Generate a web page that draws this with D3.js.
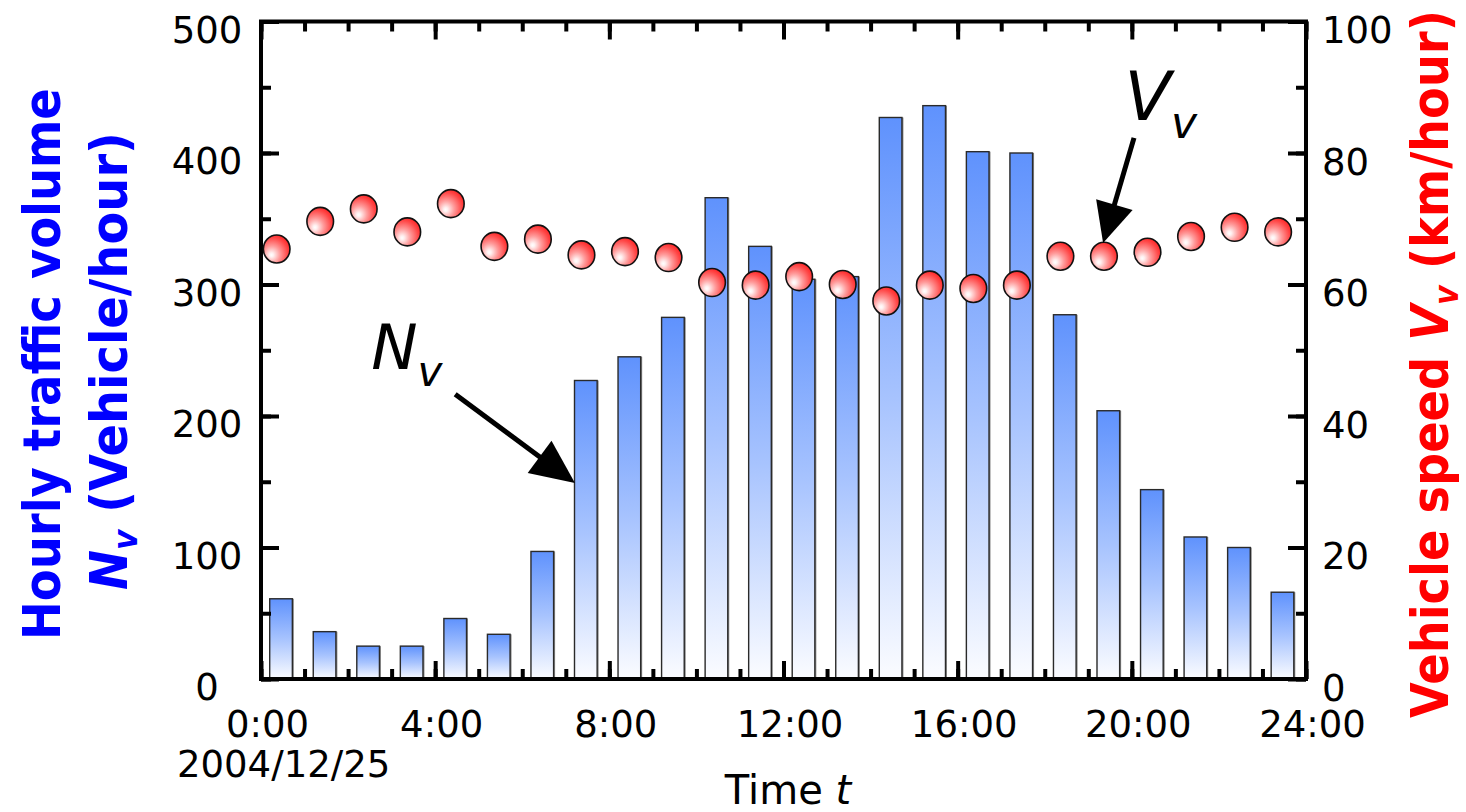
<!DOCTYPE html>
<html><head><meta charset="utf-8">
<script src="https://cdn.jsdelivr.net/npm/d3@7"></script>
<style>
html,body{margin:0;padding:0;background:#fff;}
svg{display:block;}
text{font-family:"DejaVu Sans",Verdana,sans-serif;}
</style></head>
<body>
<svg id="chart" width="1466" height="812"></svg>
<script>
// ---- data ----
const hours = [0,1,2,3,4,5,6,7,8,9,10,11,12,13,14,15,16,17,18,19,20,21,22,23];
const volume = [61,36,25,25,46,34,97,227,245,275,366,329,304,306,427,436,401,400,277,204,144,108,100,66];
const speed = [65.4,69.6,71.5,68.0,72.3,65.8,66.9,64.5,65.0,64.1,60.3,59.9,61.2,60.0,57.5,59.9,59.4,59.9,64.3,64.3,64.9,67.3,68.7,68.0];
const xTicks = [0,4,8,12,16,20,24];
const xTickLabels = ["0:00","4:00","8:00","12:00","16:00","20:00","24:00"];
const yLeftTicks = [0,100,200,300,400,500];
const yRightTicks = [0,20,40,60,80,100];
const dateLabel = "2004/12/25";

const svg = d3.select("#chart");
const L = 261, R = 1306, T = 21.5, B = 679;
const x = d3.scaleLinear().domain([0,24]).range([L,R]);
const yL = d3.scaleLinear().domain([0,500]).range([B,T]);
const yR = d3.scaleLinear().domain([0,100]).range([B,T]);

const defs = svg.append("defs");
const bg = defs.append("linearGradient").attr("id","barGrad").attr("x1",0).attr("y1",0).attr("x2",0).attr("y2",1);
bg.append("stop").attr("offset","0").attr("stop-color","#5f92fd");
bg.append("stop").attr("offset","0.5").attr("stop-color","#a7c3fe");
bg.append("stop").attr("offset","1").attr("stop-color","#fbfcff");
const rg = defs.append("radialGradient").attr("id","ballGrad")
  .attr("cx",0.36).attr("cy",0.66).attr("r",0.75).attr("fx",0.3).attr("fy",0.72);
rg.append("stop").attr("offset","0").attr("stop-color","#ffffff");
rg.append("stop").attr("offset","0.1").attr("stop-color","#fff0f0");
rg.append("stop").attr("offset","0.4").attr("stop-color","#ff9c9c");
rg.append("stop").attr("offset","0.75").attr("stop-color","#ff4a4a");
rg.append("stop").attr("offset","1").attr("stop-color","#ff1a1a");

// ---- bars ----
const bw = x(0.72) - x(0.2);
const barG = svg.append("g");
barG.selectAll("rect.sh").data(hours).join("rect").attr("class","sh")
  .attr("x", h => x(h+0.2)+1.5).attr("y", (h,i) => yL(volume[i]))
  .attr("width", bw).attr("height", (h,i) => B - yL(volume[i]))
  .attr("fill","#8a8a8a");
barG.selectAll("rect.bar").data(hours).join("rect").attr("class","bar")
  .attr("x", h => x(h+0.2)).attr("y", (h,i) => yL(volume[i]))
  .attr("width", bw).attr("height", (h,i) => B - yL(volume[i]))
  .attr("fill","url(#barGrad)").attr("stroke","#2a2a2a").attr("stroke-width",1.4);

// ---- axes ----
const fs = 37;
function styleAxis(g){
  g.select(".domain").remove();
  g.selectAll(".tick line").attr("stroke","#000").attr("stroke-width",4);
  g.selectAll(".tick text").attr("font-size",fs).attr("fill","#000")
   .attr("font-family","'DejaVu Sans',Verdana,sans-serif");
}
// minor ticks
svg.append("g").attr("transform",`translate(0,${B})`)
  .call(d3.axisBottom(x).tickValues(d3.range(0,25,1)).tickSize(-10).tickFormat(""))
  .call(styleAxis);
svg.append("g").attr("transform",`translate(0,${T})`)
  .call(d3.axisTop(x).tickValues(d3.range(0,25,1)).tickSize(-10).tickFormat(""))
  .call(styleAxis);
svg.append("g").attr("transform",`translate(${L},0)`)
  .call(d3.axisLeft(yL).tickValues(d3.range(0,501,50)).tickSize(-10).tickFormat(""))
  .call(styleAxis);
svg.append("g").attr("transform",`translate(${R},0)`)
  .call(d3.axisRight(yR).tickValues(d3.range(0,101,10)).tickSize(-10).tickFormat(""))
  .call(styleAxis);
// major ticks + labels
svg.append("g").attr("transform",`translate(0,${B})`)
  .call(d3.axisBottom(x).tickValues(xTicks).tickSize(-18).tickPadding(32)
    .tickFormat((d,i)=>xTickLabels[i]))
  .call(styleAxis)
  .call(g=>g.selectAll(".tick text").attr("dx",6));
svg.append("g").attr("transform",`translate(0,${T})`)
  .call(d3.axisTop(x).tickValues(xTicks).tickSize(-18).tickFormat(""))
  .call(styleAxis);
svg.append("g").attr("transform",`translate(${L},0)`)
  .call(d3.axisLeft(yL).tickValues(yLeftTicks).tickSize(-18).tickPadding(54))
  .call(styleAxis)
  .call(g=>g.selectAll(".tick text").attr("text-anchor","middle").attr("dy","0.56em"));
svg.append("g").attr("transform",`translate(${R},0)`)
  .call(d3.axisRight(yR).tickValues(yRightTicks).tickSize(-18).tickPadding(16))
  .call(styleAxis)
  .call(g=>g.selectAll(".tick text").attr("dy","0.58em"));

svg.append("text").attr("x",177).attr("y",777).attr("font-size",fs).text(dateLabel);

// frame
svg.append("rect").attr("x",L).attr("y",T).attr("width",R-L).attr("height",B-T)
  .attr("fill","none").attr("stroke","#000").attr("stroke-width",4);

// ---- speed balls ----
svg.append("g").selectAll("ellipse").data(hours).join("ellipse")
  .attr("cx", h => x(h+0.36)).attr("cy", (h,i) => yR(speed[i]))
  .attr("rx",13.3).attr("ry",14)
  .attr("fill","url(#ballGrad)").attr("stroke","#111").attr("stroke-width",1.6);

// ---- annotations ----
function arrow(x1,y1,x2,y2,hl,hw){
  const dx=x2-x1, dy=y2-y1, len=Math.hypot(dx,dy), ux=dx/len, uy=dy/len;
  const bx=x2-ux*hl, by=y2-uy*hl;
  svg.append("line").attr("x1",x1).attr("y1",y1).attr("x2",bx+ux*2).attr("y2",by+uy*2)
    .attr("stroke","#000").attr("stroke-width",5);
  svg.append("path").attr("d",`M${x2},${y2}L${bx-uy*hw},${by+ux*hw}L${bx+uy*hw},${by-ux*hw}Z`).attr("fill","#000");
}
const nLabel = {t:2.53, v:236};   // anchor in data units (hours, vehicles)
const nArrow = {t1:4.46, v1:216.5, t2:7.21, v2:149};
const vLabel = {t:19.83, v:85.0}; // (hours, km/h)
const vArrow = {t1:20.05, v1:82.3, t2:19.34, v2:66.3};

const nt = svg.append("text").attr("x",x(nLabel.t)).attr("y",yL(nLabel.v))
  .attr("font-family","'Liberation Sans',Arial,sans-serif").attr("font-style","italic");
nt.append("tspan").attr("font-size",62).text("N");
nt.append("tspan").attr("font-size",42).attr("dy",17).text("v");
arrow(x(nArrow.t1),yL(nArrow.v1),x(nArrow.t2),yL(nArrow.v2),44,20);

const vt = svg.append("text").attr("x",x(vLabel.t)).attr("y",yR(vLabel.v))
  .attr("font-family","'Liberation Sans',Arial,sans-serif").attr("font-style","italic");
vt.append("tspan").attr("font-size",68).text("V");
vt.append("tspan").attr("font-size",44).attr("dy",18).text("v");
arrow(x(vArrow.t1),yR(vArrow.v1),x(vArrow.t2),yR(vArrow.v2),40,19);

// x title
const xt = svg.append("text").attr("x",788).attr("y",804).attr("text-anchor","middle").attr("font-size",40);
xt.append("tspan").text("Time ");
xt.append("tspan").attr("font-style","italic").text("t");

// rotated titles, horizontally fitted to a target length
function rotTitle(cx, cy, target, color, build){
  const g = svg.append("g").attr("transform",`translate(${cx},${cy}) rotate(-90)`);
  const inner = g.append("g");
  const t = inner.append("text").attr("font-weight","bold").attr("fill",color).attr("font-size",52);
  build(t);
  const w = t.node().getComputedTextLength();
  t.attr("x",-w/2);
  inner.attr("transform",`scale(${target/w},1)`);
}
rotTitle(60, 364, 552, "#0000ff", t=>{ t.append("tspan").text("Hourly traffic volume"); });
rotTitle(127, 361, 458, "#0000ff", t=>{
  t.append("tspan").attr("font-style","italic").text("N");
  t.append("tspan").attr("font-style","italic").attr("font-size",34).attr("dy",10).text("v");
  t.append("tspan").attr("dy",-10).text(" (Vehicle/hour)");
});
rotTitle(1448, 364, 708, "#ff0000", t=>{
  t.append("tspan").text("Vehicle speed ");
  t.append("tspan").attr("font-style","italic").text("V");
  t.append("tspan").attr("font-style","italic").attr("font-size",34).attr("dy",10).text("v");
  t.append("tspan").attr("dy",-10).text(" (km/hour)");
});
</script>
</body></html>
